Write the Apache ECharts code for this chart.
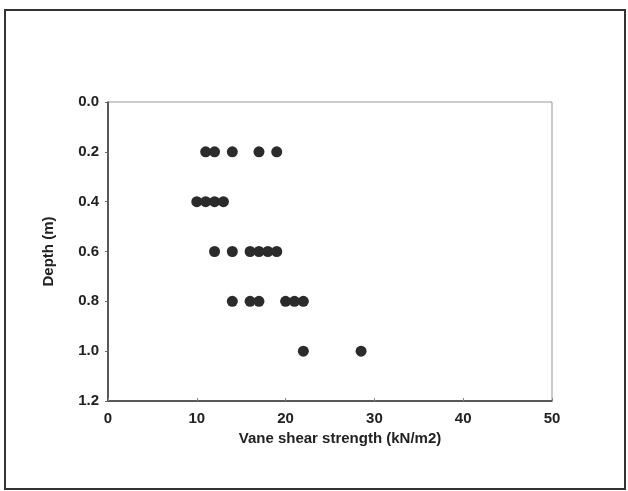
<!DOCTYPE html>
<html>
<head>
<meta charset="utf-8">
<script src="https://cdn.jsdelivr.net/npm/echarts@6/dist/echarts.min.js"></script>
<style>
  html, body { margin: 0; padding: 0; background: #fff; }
  #chart { width: 628px; height: 491px; }
</style>
</head>
<body>
<div id="chart"></div>
<script>
// depth (m) and vane shear strength (kN/m2)
var depths = [0.2, 0.4, 0.6, 0.8, 1.0];
var strengths = [
  [11, 12, 14, 17, 19],
  [10, 11, 12, 13],
  [12, 14, 16, 17, 18, 19],
  [14, 16, 17, 20, 21, 22],
  [22, 28.5]
];

var points = [];
for (var i = 0; i < depths.length; i++) {
  for (var j = 0; j < strengths[i].length; j++) {
    points.push([strengths[i][j], depths[i]]);
  }
}

var font = '"Liberation Sans", Arial, sans-serif';

var option = {
  animation: false,
  backgroundColor: '#fff',
  graphic: [{
    type: 'rect',
    shape: { x: 5, y: 10, width: 620, height: 479 },
    style: { fill: 'none', stroke: '#333', lineWidth: 2 }
  }],
  grid: { left: 108, top: 102, width: 444, height: 299, show: true, borderColor: '#999', borderWidth: 1 },
  xAxis: {
    type: 'value',
    position: 'bottom',
    min: 0, max: 50, interval: 10,
    name: 'Vane shear strength (kN/m2)',
    nameLocation: 'middle',
    nameGap: 28,
    nameTextStyle: { color: '#222', fontFamily: font, fontWeight: 'bold', fontSize: 15, padding: [0, 0, 0, 20] },
    axisLine: { onZero: false, lineStyle: { color: '#333', width: 1.5 } },
    axisTick: { inside: true, length: 3, lineStyle: { color: '#888' } },
    axisLabel: { color: '#222', fontFamily: font, fontWeight: 'bold', fontSize: 15, margin: 10 },
    splitLine: { show: false }
  },
  yAxis: {
    type: 'value',
    inverse: true,
    min: 0, max: 1.2, interval: 0.2,
    name: 'Depth (m)',
    nameLocation: 'middle',
    nameGap: 52,
    nameTextStyle: { color: '#222', fontFamily: font, fontWeight: 'bold', fontSize: 15 },
    axisLine: { onZero: false, lineStyle: { color: '#333', width: 1.5 } },
    axisTick: { length: 3, lineStyle: { color: '#666' } },
    axisLabel: {
      color: '#222', fontFamily: font, fontWeight: 'bold', fontSize: 15, margin: 9,
      formatter: function (v) { return v.toFixed(1); }
    },
    splitLine: { show: false }
  },
  series: [{
    type: 'scatter',
    data: points,
    symbol: 'circle',
    symbolSize: 11,
    itemStyle: { color: '#2b2b2b', opacity: 1 }
  }]
};

var myChart = echarts.init(document.getElementById('chart'));
myChart.setOption(option);
window.addEventListener('resize', function () {
  myChart.resize();
});
</script>
</body>
</html>
